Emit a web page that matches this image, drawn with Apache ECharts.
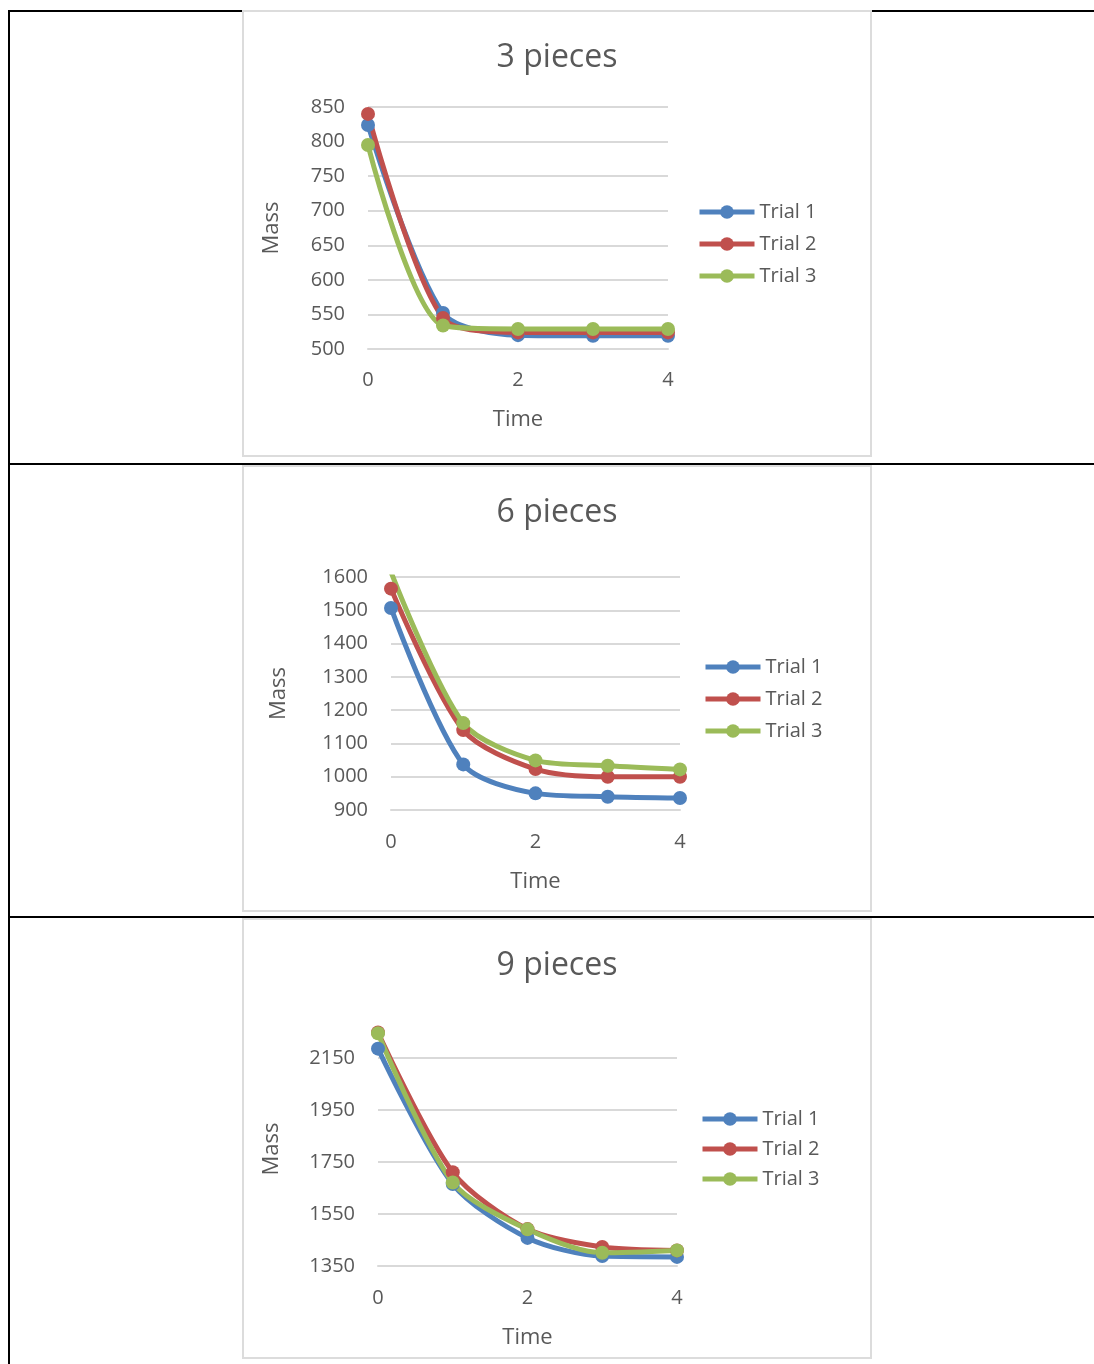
<!DOCTYPE html>
<html>
<head>
<meta charset="utf-8">
<script src="https://cdn.jsdelivr.net/npm/echarts@6/dist/echarts.min.js"></script>
<style>
  html, body { margin: 0; padding: 0; background: #fff; }
  body { width: 1094px; height: 1364px; position: relative; overflow: hidden; }
  .hline { position: absolute; left: 8px; right: 0; height: 2px; background: #000; }
  .vline { position: absolute; left: 8px; top: 10px; width: 2px; bottom: 0; background: #000; }
  .box { position: absolute; left: 242px; width: 626px; background: #fff; border: 2px solid #dcdcdc; }
</style>
</head>
<body>
<div class="hline" style="top:10px"></div>
<div class="hline" style="top:463px"></div>
<div class="hline" style="top:916px"></div>
<div class="vline"></div>
<div id="c1" class="box" style="top:10px;height:443px"></div>
<div id="c2" class="box" style="top:465px;height:443px"></div>
<div id="c3" class="box" style="top:918px;height:437px"></div>
<script>
// ---- data ----
const timeValues = [0, 1, 2, 3, 4];
const seriesNames = ['Trial 1', 'Trial 2', 'Trial 3'];
const seriesColors = ['#4F81BD', '#C0504D', '#9BBB59'];

const titles = ['3 pieces', '6 pieces', '9 pieces'];

const pieces3Trial1 = [824, 552, 520, 519, 519];
const pieces3Trial2 = [840, 545, 524, 524, 524];
const pieces3Trial3 = [795, 534, 529, 529, 529];

const pieces6Trial1 = [1507, 1037, 950, 940, 936];
const pieces6Trial2 = [1565, 1140, 1023, 1000, 1000];
const pieces6Trial3 = [1615, 1161, 1049, 1033, 1022];

const pieces9Trial1 = [2186, 1665, 1458, 1388, 1385];
const pieces9Trial2 = [2248, 1711, 1492, 1423, 1410];
const pieces9Trial3 = [2245, 1671, 1491, 1401, 1410];

// axis ranges
const yRange3 = { min: 500, max: 850, interval: 50 };
const yRange6 = { min: 900, max: 1600, interval: 100 };
const yRange9 = { min: 1350, max: 2250, interval: 200 };
const xRange = { min: 0, max: 4, interval: 2 };

const FONT = '"Open Sans", "Noto Sans", sans-serif';
const TXT = '#595959';
const GRID = '#d9d9d9';

function build(id, title, trials, yr, L) {
  const chart = echarts.init(document.getElementById(id), null, { renderer: 'canvas' });
  const series = trials.map((vals, i) => ({
    name: seriesNames[i],
    type: 'line',
    smooth: 0.28,
    clip: true,
    symbol: 'circle',
    symbolSize: 14,
    data: timeValues.map((t, k) => [t, vals[k]]),
    lineStyle: { width: 5, color: seriesColors[i] },
    itemStyle: { color: seriesColors[i] },
    emphasis: { disabled: true },
    animation: false
  }));
  const nTicks = Math.floor((yr.max - yr.min) / yr.interval + 1e-9) + 1;
  const hasExtra = Math.abs(yr.min + (nTicks - 1) * yr.interval - yr.max) > 1e-9;
  const splitColors = [];
  for (let i = 0; i < nTicks; i++) splitColors.push(GRID);
  if (hasExtra) splitColors.push('rgba(0,0,0,0)');
  chart.setOption({
    animation: false,
    textStyle: { fontFamily: FONT },
    title: {
      text: title, left: 'center', top: L.titleTop,
      textStyle: { fontFamily: FONT, fontSize: 32, fontWeight: 'normal', color: TXT, lineHeight: 32 }
    },
    legend: {
      orient: 'vertical', left: L.legLeft, top: L.legTop,
      itemWidth: 55, itemHeight: 17, itemGap: L.legGap,
      lineStyle: { width: 5 },
      textStyle: { fontFamily: FONT, fontSize: 20, color: TXT, lineHeight: 20 },
      data: seriesNames
    },
    grid: { left: L.left, top: L.top, height: L.height, width: L.width, containLabel: false },
    xAxis: {
      type: 'value', min: xRange.min, max: xRange.max, interval: xRange.interval,
      name: 'Time', nameLocation: 'middle', nameGap: L.xNameGap,
      nameTextStyle: { fontFamily: FONT, fontSize: 22, color: TXT, lineHeight: 22 },
      axisLine: { show: true, lineStyle: { color: GRID, width: 2 } },
      axisTick: { show: false },
      splitLine: { show: false },
      axisLabel: { fontFamily: FONT, fontSize: 20, color: TXT, margin: L.xLabMargin, lineHeight: 20,
        formatter: v => String(v) }
    },
    yAxis: {
      type: 'value', min: yr.min, max: yr.max, interval: yr.interval,
      name: 'Mass', nameLocation: 'middle', nameGap: L.yNameGap,
      nameTextStyle: { fontFamily: FONT, fontSize: 22, color: TXT, lineHeight: 22 },
      axisLine: { show: false },
      axisTick: { show: false },
      splitLine: { show: true, lineStyle: { color: splitColors, width: 2 } },
      axisLabel: {
        fontFamily: FONT, fontSize: 20, color: TXT, margin: 23,
        showMaxLabel: !hasExtra,
        formatter: v => String(v)
      }
    },
    series: series
  });
}

build('c1', titles[0], [pieces3Trial1, pieces3Trial2, pieces3Trial3], yRange3,
  { titleTop: 25, left: 124, top: 95, height: 242, width: 300, legLeft: 448, legTop: 185, legGap: 12,
    xNameGap: 60, xLabMargin: 21, yNameGap: 85 });
build('c2', titles[1], [pieces6Trial1, pieces6Trial2, pieces6Trial3], yRange6,
  { titleTop: 25, left: 147, top: 110, height: 233, width: 289, legLeft: 454, legTop: 185, legGap: 12,
    xNameGap: 61, xLabMargin: 22, yNameGap: 101 });
build('c3', titles[2], [pieces9Trial1, pieces9Trial2, pieces9Trial3], yRange9,
  { titleTop: 25, left: 134, top: 112, height: 234, width: 299, legLeft: 451, legTop: 184, legGap: 10,
    xNameGap: 61, xLabMargin: 22, yNameGap: 95 });
</script>
</body>
</html>
